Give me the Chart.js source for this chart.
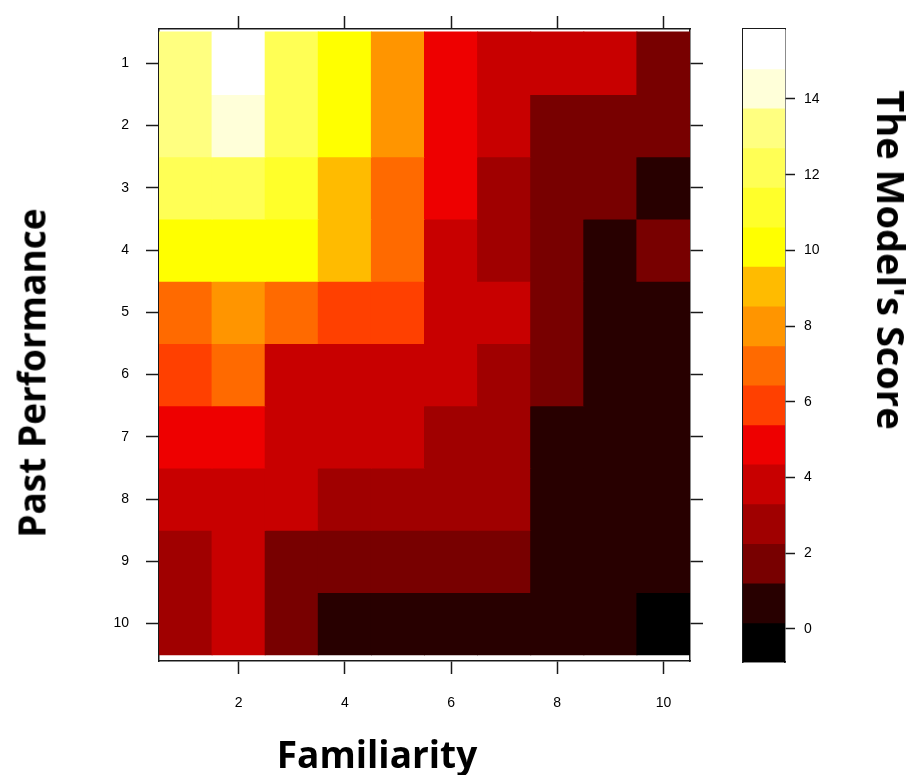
<!DOCTYPE html>
<html>
<head>
<meta charset="utf-8">
<title>Model score by familiarity and past performance</title>
<script src="https://cdn.jsdelivr.net/npm/chart.js@4.4.1/dist/chart.umd.min.js"></script>
<style>
  html, body { margin: 0; padding: 0; background: #fff; }
  #wrap { position: relative; width: 913px; height: 775px; overflow: hidden; }
  #heat { position: absolute; left: 0; top: 0; }
  #key { position: absolute; left: 700px; top: 0; }
  .title {
    position: absolute;
    font-family: 'Open Sans', 'Noto Sans', sans-serif;
    font-weight: 700;
    font-size: 37px;
    line-height: 1;
    color: #000;
    white-space: nowrap;
  }
  #xTitle { left: 377px; top: 753px; transform: translate(-50%, -50%); }
  #yTitle { left: 31px; top: 373px; transform: translate(-50%, -50%) rotate(-90deg); }
  #keyTitle { left: 892px; top: 260px; font-size: 38px; transform: translate(-50%, -50%) rotate(90deg); }
</style>
</head>
<body>
<div id="wrap">
  <canvas id="heat" width="913" height="775"></canvas>
  <canvas id="key" width="213" height="775"></canvas>
  <div class="title" id="xTitle">Familiarity</div>
  <div class="title" id="yTitle">Past Performance</div>
  <div class="title" id="keyTitle">The Model's Score</div>
</div>
<script>
// grid coordinates
const familiarity = [1, 2, 3, 4, 5, 6, 7, 8, 9, 10];
const pastPerformance = [1, 2, 3, 4, 5, 6, 7, 8, 9, 10];

// model score, one row per past performance level, one column per familiarity level
const scores = [
  [13, 15, 12, 10, 8, 5, 4, 4, 4, 2],
  [13, 14, 12, 10, 8, 5, 4, 2, 2, 2],
  [12, 12, 11,  9, 7, 5, 3, 2, 2, 1],
  [10, 10, 10,  9, 7, 4, 3, 2, 1, 2],
  [ 7,  8,  7,  6, 6, 4, 4, 2, 1, 1],
  [ 6,  7,  4,  4, 4, 4, 3, 2, 1, 1],
  [ 5,  5,  4,  4, 4, 3, 3, 1, 1, 1],
  [ 4,  4,  4,  3, 3, 3, 3, 1, 1, 1],
  [ 3,  4,  2,  2, 2, 2, 2, 1, 1, 1],
  [ 3,  4,  2,  1, 1, 1, 1, 1, 1, 0]
];

// axis ticks
const xTicks = [2, 4, 6, 8, 10];
const yTicks = [1, 2, 3, 4, 5, 6, 7, 8, 9, 10];
const keyTicks = [0, 2, 4, 6, 8, 10, 12, 14];

// colour key: band edges and one colour per band
const keyBreaks = [-0.88, 0.16, 1.21, 2.25, 3.30, 4.35, 5.39, 6.44, 7.48,
                   8.53, 9.58, 10.62, 11.67, 12.71, 13.76, 14.80, 15.85];
const heatColors = [
  '#000000', '#280000', '#780000', '#a00000', '#c80000', '#ee0000',
  '#ff4000', '#ff6a00', '#ff9500', '#ffbb00', '#ffff00', '#ffff2a',
  '#ffff55', '#ffff80', '#ffffd9', '#ffffff'
];

function colorFor(v) {
  for (let k = 0; k < heatColors.length; k++) {
    if (v < keyBreaks[k + 1]) return heatColors[k];
  }
  return heatColors[heatColors.length - 1];
}

const INK = '#1a1a1a';
const tickFont = { family: "'Liberation Sans', Arial, sans-serif", size: 14 };

function frame() {
  return { display: true, color: INK, width: 1.5 };
}
function ticksOut(len) {
  return {
    offset: false, drawOnChartArea: false, drawTicks: len > 0, tickLength: len,
    color: INK, tickColor: INK, tickWidth: 1.5
  };
}
function fixTicks(list) {
  return scale => { scale.ticks = list.map(v => ({ value: v })); };
}

// ---- heat map: one floating-bar dataset per past performance row ----
const rowSets = pastPerformance.map((p, r) => ({
  label: 'Past Performance ' + p,
  data: familiarity.map((f, c) => ({ x: f, y: [p - 0.5, p + 0.5], score: scores[r][c] })),
  backgroundColor: ctx => (ctx.raw ? colorFor(ctx.raw.score) : '#000'),
  borderWidth: 0,
  inflateAmount: 0.5,
  barPercentage: 1,
  categoryPercentage: 1,
  grouped: false
}));

new Chart(document.getElementById('heat'), {
  type: 'bar',
  data: { datasets: rowSets },
  options: {
    responsive: false,
    animation: false,
    events: [],
    layout: { padding: 0 },
    plugins: { legend: { display: false }, tooltip: { enabled: false } },
    scales: {
      x: {
        type: 'linear', position: 'bottom', min: 0.5, max: 10.5, offset: false,
        afterBuildTicks: fixTicks(xTicks),
        afterFit: s => { s.height = 114; },
        grid: ticksOut(13), border: frame(),
        ticks: { font: tickFont, color: '#000', padding: 21, maxRotation: 0, autoSkip: false }
      },
      xTop: {
        type: 'linear', position: 'top', min: 0.5, max: 10.5, offset: false,
        afterBuildTicks: fixTicks(xTicks),
        afterFit: s => { s.height = 29; },
        grid: ticksOut(13), border: frame(),
        ticks: { display: false }
      },
      y: {
        type: 'linear', position: 'left', reverse: true, min: 0.45, max: 10.6,
        afterBuildTicks: fixTicks(yTicks),
        afterFit: s => { s.width = 159; },
        grid: ticksOut(13), border: frame(),
        ticks: { font: tickFont, color: '#000', padding: 17, autoSkip: false }
      },
      yRight: {
        type: 'linear', position: 'right', reverse: true, min: 0.45, max: 10.6,
        afterBuildTicks: fixTicks(yTicks),
        afterFit: s => { s.width = 223; },
        grid: ticksOut(13), border: frame(),
        ticks: { display: false }
      }
    }
  }
});

// ---- colour key ----
new Chart(document.getElementById('key'), {
  type: 'bar',
  data: {
    labels: ['score'],
    datasets: [{
      label: 'key',
      data: heatColors.map((c, k) => ({ x: 'score', y: [keyBreaks[k], keyBreaks[k + 1]] })),
      backgroundColor: heatColors,
      borderWidth: 0,
      inflateAmount: 0.5,
      barPercentage: 1,
      categoryPercentage: 1
    }]
  },
  options: {
    responsive: false,
    animation: false,
    events: [],
    plugins: { legend: { display: false }, tooltip: { enabled: false } },
    scales: {
      x: {
        type: 'category', position: 'bottom',
        afterFit: s => { s.height = 113; },
        grid: ticksOut(0), border: frame(),
        ticks: { display: false }
      },
      xTop: {
        type: 'category', position: 'top', labels: ['score'],
        afterFit: s => { s.height = 29; },
        grid: ticksOut(0), border: frame(),
        ticks: { display: false }
      },
      y: {
        type: 'linear', position: 'right', min: keyBreaks[0], max: keyBreaks[keyBreaks.length - 1],
        afterBuildTicks: fixTicks(keyTicks),
        afterFit: s => { s.width = 128; },
        grid: ticksOut(10), border: frame(),
        ticks: { font: tickFont, color: '#000', padding: 9, autoSkip: false }
      },
      yLeft: {
        type: 'linear', position: 'left', min: 0, max: 1,
        afterFit: s => { s.width = 43; },
        grid: ticksOut(0), border: frame(),
        ticks: { display: false }
      }
    }
  }
});
</script>
</body>
</html>
